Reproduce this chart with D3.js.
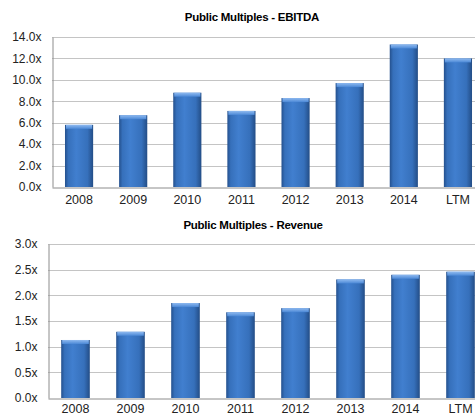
<!DOCTYPE html>
<html>
<head>
<meta charset="utf-8">
<script src="https://cdn.jsdelivr.net/npm/d3@7"></script>
<style>
    body { margin: 0; background: #fff; }
    text { font-family: "Liberation Sans", Arial, sans-serif; }
</style>
</head>
<body>
<svg id="chart" width="475" height="417"></svg>
<script>

// categories shared by both charts
let years = ["2008", "2009", "2010", "2011", "2012", "2013", "2014", "LTM"];

// EBITDA multiples (top chart)
let ebitdaValues = [5.8, 6.7, 8.8, 7.1, 8.3, 9.7, 13.3, 12.0];
let ebitdaTicks = [0, 2, 4, 6, 8, 10, 12, 14];

// Revenue multiples (bottom chart)
let revenueValues = [1.13, 1.29, 1.85, 1.67, 1.75, 2.31, 2.40, 2.46];
let revenueTicks = [0, 0.5, 1, 1.5, 2, 2.5, 3];


class BarVis {
    constructor(svg, config) {
        this.svg = svg;
        this.config = config;
        this.initVis();
    }

    initVis() {
        let vis = this;
        let c = vis.config;

        vis.g = vis.svg.append("g");

        vis.x = d3.scaleBand()
            .domain(c.categories)
            .range([c.left, c.right])
            .paddingInner(0.48)
            .paddingOuter(0.24);

        vis.y = d3.scaleLinear()
            .domain([0, d3.max(c.ticks)])
            .range([c.bottom, c.top]);

        vis.updateVis();
    }

    updateVis() {
        let vis = this;
        let c = vis.config;

        // title
        vis.g.append("text")
            .attr("x", c.titleX)
            .attr("y", c.titleY)
            .attr("text-anchor", "middle")
            .attr("font-size", 11.5)
            .attr("font-weight", "bold")
            .attr("letter-spacing", -0.25)
            .attr("fill", "#000")
            .text(c.title);

        // gridlines
        vis.g.selectAll(".grid")
            .data(c.ticks.filter(t => t > 0))
            .enter().append("line")
            .attr("x1", c.left)
            .attr("x2", c.right)
            .attr("y1", d => Math.round(vis.y(d)) + 0.5)
            .attr("y2", d => Math.round(vis.y(d)) + 0.5)
            .attr("stroke", "#c4c4c4")
            .attr("stroke-width", 1.2);

        // y axis
        let yAxis = d3.axisLeft(vis.y)
            .tickValues(c.ticks)
            .tickSize(0)
            .tickPadding(11)
            .tickFormat(d => d3.format(".1f")(d) + "x");

        let yg = vis.g.append("g")
            .attr("transform", `translate(${c.left + 0.5},0)`)
            .call(yAxis);
        yg.select(".domain").attr("stroke", "#8c8c8c");
        yg.selectAll("text")
            .attr("font-size", 12)
            .attr("fill", "#222")
            .attr("font-family", "Liberation Sans, Arial, sans-serif");

        // x axis
        let xAxis = d3.axisBottom(vis.x).tickSize(0).tickPadding(c.xPad);
        let xg = vis.g.append("g")
            .attr("transform", `translate(0,${c.bottom + 0.5})`)
            .call(xAxis);
        xg.select(".domain").attr("stroke", "#8c8c8c");
        xg.selectAll("text")
            .attr("font-size", 12.5)
            .attr("fill", "#222")
            .attr("font-family", "Liberation Sans, Arial, sans-serif");

        let bars = vis.g.selectAll(".bar")
            .data(c.values)
            .enter().append("g")
            .attr("class", "bar");

        // bar body
        bars.append("rect")
            .attr("x", (d, i) => vis.x(c.categories[i]))
            .attr("y", d => vis.y(d))
            .attr("width", vis.x.bandwidth())
            .attr("height", d => c.bottom - vis.y(d))
            .attr("fill", "url(#barBody)");

        // bevelled top cap
        bars.append("rect")
            .attr("x", (d, i) => vis.x(c.categories[i]) + 1)
            .attr("y", d => vis.y(d))
            .attr("width", vis.x.bandwidth() - 2)
            .attr("height", 4)
            .attr("fill", "url(#barCap)");
    }
}


let svg = d3.select("#chart");

// gradients for the bevelled bars
let defs = svg.append("defs");
let body = defs.append("linearGradient").attr("id", "barBody")
    .attr("x1", 0).attr("x2", 1).attr("y1", 0).attr("y2", 0);
[["0%", "#24508d"], ["12%", "#3670bb"], ["40%", "#417fcf"], ["80%", "#3670bb"], ["100%", "#234d86"]]
    .forEach(s => body.append("stop").attr("offset", s[0]).attr("stop-color", s[1]));

let cap = defs.append("linearGradient").attr("id", "barCap")
    .attr("x1", 0).attr("x2", 0).attr("y1", 0).attr("y2", 1);
[["0%", "#8fbaf0"], ["100%", "#4b88d6"]]
    .forEach(s => cap.append("stop").attr("offset", s[0]).attr("stop-color", s[1]));

new BarVis(svg, {
    title: "Public Multiples - EBITDA",
    titleX: 252, titleY: 21,
    categories: years,
    values: ebitdaValues,
    ticks: ebitdaTicks,
    left: 52, right: 485, top: 37, bottom: 187,
    xPad: 8
});

new BarVis(svg, {
    title: "Public Multiples - Revenue",
    titleX: 253, titleY: 229,
    categories: years,
    values: revenueValues,
    ticks: revenueTicks,
    left: 48, right: 488, top: 244, bottom: 398,
    xPad: 6
});

</script>
</body>
</html>
